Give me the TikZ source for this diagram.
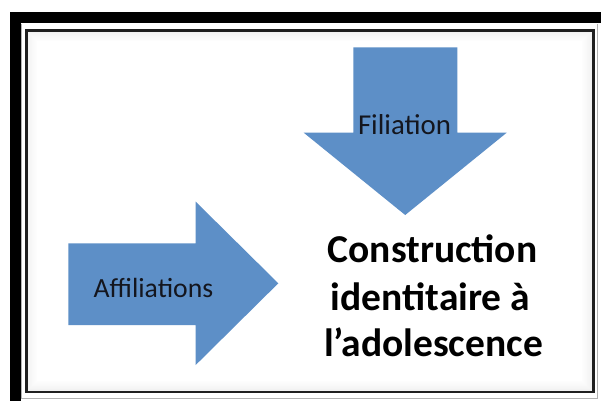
\documentclass[tikz,border=0pt]{standalone}
\usepackage{fontspec}
\setmainfont{Carlito}
\definecolor{arrowblue}{RGB}{93,143,199}
\definecolor{txtdark}{RGB}{20,22,30}
\tikzset{
  bigarrow/.style={fill=arrowblue, draw=none},
  arrowlabel/.style={text=txtdark, anchor=base, inner sep=0pt},
  titleline/.style={font=\fontsize{39.5}{47}\bfseries\selectfont, text=black, anchor=base, inner sep=0pt},
}
\begin{document}
\begin{tikzpicture}[x=1pt,y=-1pt]
\useasboundingbox (0,0) rectangle (601,401);
\fill[white] (0,0) rectangle (601,401);
% outer black frame
\fill[black] (10,12) rectangle (601,23);
\fill[black] (10,12) rectangle (20.7,401);
% thin outer grey line
\draw[black!30, line width=0.8pt] (21.8,23.6) -- (21.8,398) -- (597.5,398) -- (597.5,23.6);
% inner soft shadow
\foreach \i/\o in {1/06,2/05,3/04,4/035,5/03,6/025,7/02,8/015,9/01,10/008}{
  \draw[black, opacity=0.\o, line width=1pt] (26.8+\i,31+\i) rectangle (592.7-\i,391.2-\i);
}
% inner dark frame
\draw[black!88, line width=2.5pt] (26.3,30.3) rectangle (593.7,392);
% arrows
\fill[bigarrow] (353.3,47.3) -- (457.3,47.3) -- (457.3,132.7) -- (506.7,132.7)
  -- (405.2,215) -- (303.7,132.7) -- (353.3,132.7) -- cycle;
\fill[bigarrow] (68.3,243.3) -- (195.7,243.3) -- (195.7,201.7) -- (278.3,283.3)
  -- (195.7,365) -- (195.7,325) -- (68.3,325) -- cycle;
% labels
\node[arrowlabel, font=\fontsize{28.8}{34}\selectfont] (fil) at (404.5,134.3) {Filiation};
\node[arrowlabel, font=\fontsize{27.7}{33}\selectfont] (aff) at (153.4,297.7) {Affiliations};
\node[titleline] (c1) at (432.5,262.3) {Construction};
\node[titleline] (c2) at (430.5,310) {identitaire à};
\node[titleline] (c3) at (433.5,356.7) {l’adolescence};
\end{tikzpicture}
\end{document}
